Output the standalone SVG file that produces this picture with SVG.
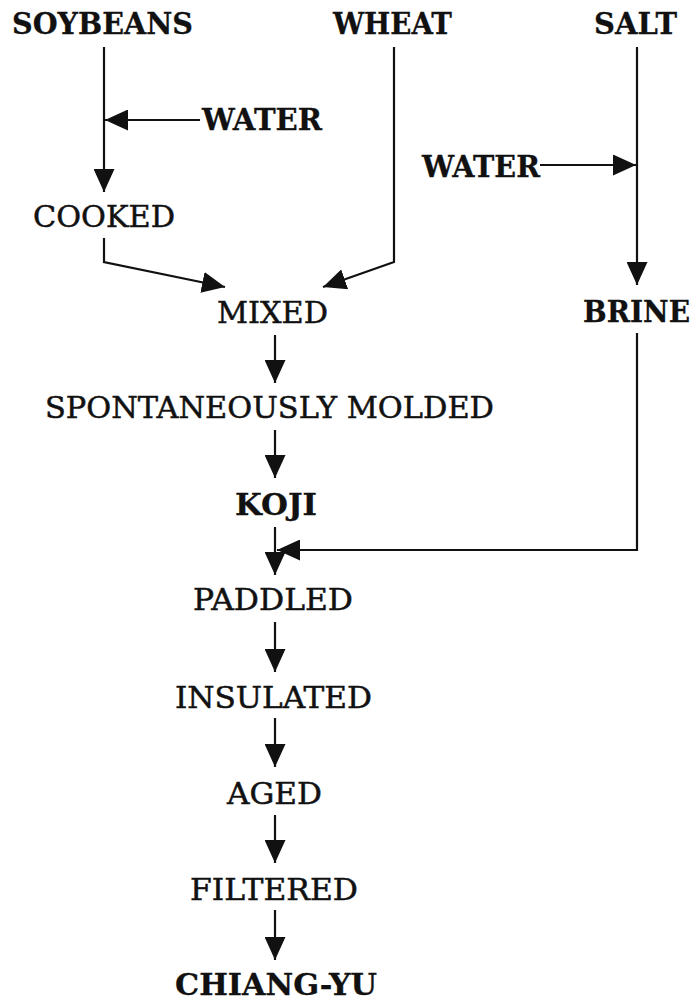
<svg xmlns="http://www.w3.org/2000/svg" width="697" height="1001" viewBox="0 0 697 1001">
  <style>
    .t { font-family: "DejaVu Serif", "Liberation Serif", serif; font-size: 30px; fill: #111; stroke: #111; stroke-width: 0.5; }
    .b { font-weight: bold; stroke-width: 0.3; }
    .c { fill: none; stroke: #111; stroke-width: 2.2; }
  </style>
  <defs>
    <marker id="ah" markerUnits="userSpaceOnUse" markerWidth="23" markerHeight="21" refX="23" refY="10.5" orient="auto" viewBox="0 0 23 21">
      <path d="M0,0 L23,10.5 L0,21 Z" fill="#111"/>
    </marker>
  </defs>
  <rect width="697" height="1001" fill="#fff"/>

  <!-- connectors -->
  <g id="connectors">
    <path class="c" d="M104,47 V192" marker-end="url(#ah)"/>
    <path class="c" d="M200,120 H105" marker-end="url(#ah)"/>
    <path class="c" d="M104,238 V262 L225,287" marker-end="url(#ah)"/>
    <path class="c" d="M394,47 V262 L323,287" marker-end="url(#ah)"/>
    <path class="c" d="M637,47 V285" marker-end="url(#ah)"/>
    <path class="c" d="M540,165 H636" marker-end="url(#ah)"/>
    <path class="c" d="M275,335 V383" marker-end="url(#ah)"/>
    <path class="c" d="M275,430 V478" marker-end="url(#ah)"/>
    <path class="c" d="M275,527 V575" marker-end="url(#ah)"/>
    <path class="c" d="M637,333 V550 H277" marker-end="url(#ah)"/>
    <path class="c" d="M275,622 V672" marker-end="url(#ah)"/>
    <path class="c" d="M275,718 V767" marker-end="url(#ah)"/>
    <path class="c" d="M275,815 V863" marker-end="url(#ah)"/>
    <path class="c" d="M275,910 V960" marker-end="url(#ah)"/>
  </g>

  <!-- nodes -->
  <g id="soybeans"><text class="t b" x="12" y="34" font-size="29" textLength="181" lengthAdjust="spacingAndGlyphs">SOYBEANS</text></g>
  <g id="wheat"><text class="t b" x="333" y="34" font-size="29" textLength="119" lengthAdjust="spacingAndGlyphs">WHEAT</text></g>
  <g id="salt"><text class="t b" x="594" y="34" font-size="29" textLength="83" lengthAdjust="spacingAndGlyphs">SALT</text></g>
  <g id="water-soy"><text class="t b" x="202" y="130" font-size="29" textLength="120" lengthAdjust="spacingAndGlyphs">WATER</text></g>
  <g id="water-salt"><text class="t b" x="422" y="177" font-size="29" textLength="118" lengthAdjust="spacingAndGlyphs">WATER</text></g>
  <g id="cooked"><text class="t" x="33" y="227" textLength="142" lengthAdjust="spacingAndGlyphs">COOKED</text></g>
  <g id="mixed"><text class="t" x="217" y="323" textLength="111" lengthAdjust="spacingAndGlyphs">MIXED</text></g>
  <g id="brine"><text class="t b" x="583" y="322" textLength="107" lengthAdjust="spacingAndGlyphs">BRINE</text></g>
  <g id="molded"><text class="t" x="45" y="418" textLength="449" lengthAdjust="spacingAndGlyphs">SPONTANEOUSLY MOLDED</text></g>
  <g id="koji"><text class="t b" x="235" y="515" textLength="82" lengthAdjust="spacingAndGlyphs">KOJI</text></g>
  <g id="paddled"><text class="t" x="193" y="610" textLength="160" lengthAdjust="spacingAndGlyphs">PADDLED</text></g>
  <g id="insulated"><text class="t" x="175" y="708" textLength="197" lengthAdjust="spacingAndGlyphs">INSULATED</text></g>
  <g id="aged"><text class="t" x="227" y="804" textLength="95" lengthAdjust="spacingAndGlyphs">AGED</text></g>
  <g id="filtered"><text class="t" x="190" y="900" textLength="168" lengthAdjust="spacingAndGlyphs">FILTERED</text></g>
  <g id="chiang-yu"><text class="t b" x="175" y="995" textLength="202" lengthAdjust="spacingAndGlyphs">CHIANG-YU</text></g>
</svg>
